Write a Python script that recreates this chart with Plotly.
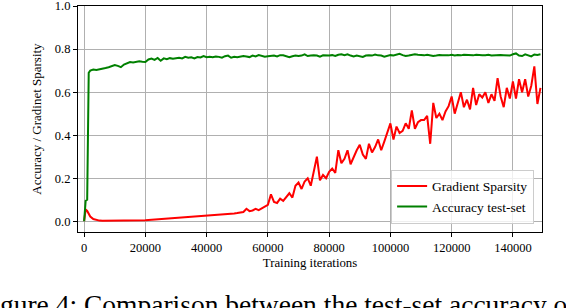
import plotly.graph_objects as go

iterations = [0, 500, 1000, 1500] + list(range(2000, 150000, 1000))

gradient_sparsity = [
    0.000, 0.055, 0.048, 0.035,
    0.022, 0.010, 0.005, 0.003,
    0.002, 0.002, 0.002, 0.002, 0.002, 0.002, 0.003, 0.003, 0.003, 0.003,
    0.003, 0.004, 0.004, 0.004, 0.005,
    0.006, 0.007, 0.008, 0.009, 0.010, 0.011, 0.012, 0.013, 0.014, 0.015,
    0.016, 0.017, 0.018, 0.019, 0.020, 0.021, 0.022, 0.023, 0.024, 0.025,
    0.026, 0.027, 0.028, 0.030, 0.029, 0.031, 0.033, 0.034, 0.036, 0.038,
    0.040, 0.043, 0.058, 0.047, 0.050, 0.058, 0.052, 0.060, 0.066, 0.076,
    0.125, 0.090, 0.085, 0.105, 0.095, 0.115, 0.130, 0.110, 0.165, 0.180,
    0.150, 0.185, 0.200, 0.165, 0.240, 0.300, 0.190, 0.215, 0.200, 0.230,
    0.245, 0.225, 0.330, 0.270, 0.290, 0.330, 0.265, 0.300, 0.330, 0.355,
    0.310, 0.290, 0.360, 0.320, 0.345, 0.380, 0.330, 0.370, 0.410, 0.455,
    0.380, 0.440, 0.410, 0.420, 0.455, 0.430, 0.515, 0.430, 0.460, 0.470,
    0.470, 0.490, 0.360, 0.550, 0.480, 0.500, 0.470, 0.510, 0.535, 0.580,
    0.500, 0.555, 0.600, 0.530, 0.565, 0.520, 0.620, 0.540, 0.590, 0.575,
    0.600, 0.550, 0.590, 0.560, 0.665, 0.580, 0.530, 0.620, 0.570, 0.650,
    0.570, 0.660, 0.600, 0.660, 0.580, 0.630, 0.720, 0.545, 0.620,
]

accuracy_test = [
    0.000, 0.095, 0.100, 0.690,
    0.700, 0.705, 0.703, 0.705,
    0.708, 0.712, 0.716, 0.720, 0.726, 0.722, 0.716, 0.728, 0.735, 0.740,
    0.738, 0.742, 0.743, 0.741, 0.740,
    0.752, 0.756, 0.750, 0.759, 0.746, 0.757, 0.753, 0.758, 0.755, 0.756,
    0.760, 0.757, 0.764, 0.760, 0.762, 0.757, 0.763, 0.761, 0.768, 0.762,
    0.765, 0.762, 0.766, 0.764, 0.760, 0.767, 0.770, 0.760, 0.764, 0.762,
    0.765, 0.768, 0.766, 0.763, 0.770, 0.766, 0.772, 0.768, 0.765, 0.767,
    0.768, 0.770, 0.766, 0.772, 0.771, 0.768, 0.762, 0.767, 0.770, 0.768,
    0.770, 0.776, 0.768, 0.770, 0.772, 0.770, 0.765, 0.771, 0.769, 0.770,
    0.772, 0.768, 0.774, 0.776, 0.772, 0.776, 0.770, 0.766, 0.770, 0.768,
    0.764, 0.770, 0.772, 0.770, 0.775, 0.771, 0.770, 0.765, 0.770, 0.772,
    0.770, 0.774, 0.778, 0.772, 0.768, 0.770, 0.772, 0.776, 0.774, 0.772,
    0.771, 0.774, 0.772, 0.768, 0.770, 0.773, 0.772, 0.770, 0.771, 0.774,
    0.770, 0.773, 0.771, 0.774, 0.772, 0.770, 0.771, 0.774, 0.772, 0.771,
    0.772, 0.774, 0.770, 0.772, 0.771, 0.773, 0.772, 0.771, 0.770, 0.776,
    0.780, 0.770, 0.768, 0.776, 0.772, 0.766, 0.775, 0.773, 0.776,
]

x_ticks = [0, 20000, 40000, 60000, 80000, 100000, 120000, 140000]
x_tick_labels = ["0", "20000", "40000", "60000", "80000", "100000", "120000", "140000"]
y_ticks = [0.0, 0.2, 0.4, 0.6, 0.8, 1.0]
y_tick_labels = ["0.0", "0.2", "0.4", "0.6", "0.8", "1.0"]

FONT = "Liberation Serif, Times New Roman, serif"

fig = go.Figure()
fig.add_trace(go.Scatter(x=iterations, y=gradient_sparsity, mode="lines",
                         name="Gradient Sparsity",
                         line=dict(color="#ff0000", width=2)))
fig.add_trace(go.Scatter(x=iterations, y=accuracy_test, mode="lines",
                         name="Accuracy test-set",
                         line=dict(color="#008000", width=2)))

axis_common = dict(showline=True, mirror=True, linecolor="black", linewidth=1.2,
                   ticks="outside", ticklen=4, tickcolor="black", tickwidth=1,
                   showgrid=True, gridcolor="#b0b0b0", gridwidth=1, zeroline=False,
                   automargin=False, ticklabeloverflow="allow",
                   tickfont=dict(family=FONT, size=12.5, color="black"))

fig.update_xaxes(range=[-2000, 149500], tickvals=x_ticks, ticktext=x_tick_labels,
                 title=dict(text="Training iterations", font=dict(family=FONT, size=12.8, color="black"),
                            standoff=3),
                 **axis_common)
fig.update_yaxes(range=[-0.05, 1.0004], tickvals=y_ticks, ticktext=y_tick_labels,
                 title=dict(text="Accuracy / Gradinet Sparsity", font=dict(family=FONT, size=13, color="black"),
                            standoff=10),
                 **axis_common)

fig.update_layout(
    width=566, height=308,
    margin=dict(l=78, r=24, t=6, b=76),
    paper_bgcolor="white", plot_bgcolor="white",
    font=dict(family=FONT, size=12, color="black"),
    showlegend=True,
    legend=dict(x=0.983, y=0.037, xanchor="right", yanchor="bottom",
                bgcolor="rgba(255,255,255,0.8)", bordercolor="#cccccc", borderwidth=1,
                font=dict(family=FONT, size=13.5, color="black"),
                itemwidth=30, tracegroupgap=0),
    annotations=[dict(text="Figure 4: Comparison between the test-set accuracy of the",
                      xref="paper", yref="paper", x=-0.223, y=-0.3186,
                      xanchor="left", yanchor="middle", showarrow=False,
                      font=dict(family=FONT, size=27.5, color="black"))],
)

fig.write_html("out.html", config={"displayModeBar": False},
               post_script="document.body.style.margin='0px';")
